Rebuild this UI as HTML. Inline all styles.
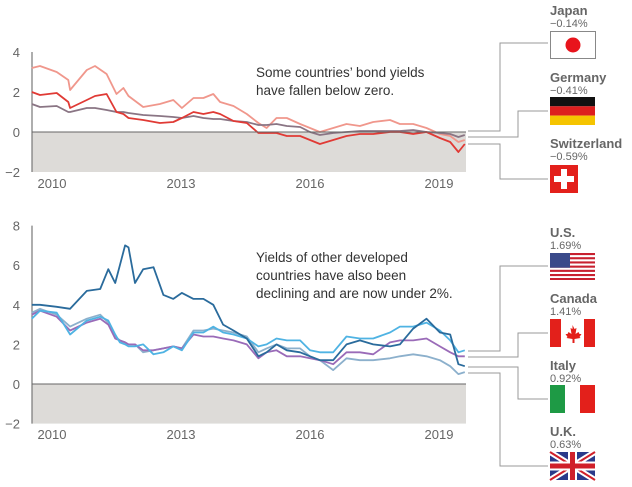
<!DOCTYPE html>
<html><head><meta charset="utf-8">
<style>
body{margin:0;background:#fff;}
svg{display:block;font-family:"Liberation Sans",Arial,sans-serif;}
</style></head>
<body>
<svg id="c" width="632" height="487" viewBox="0 0 632 487"></svg>
<script>
// ---- Top chart data ----
const topDates = [2009.53,2009.72,2010.11,2010.38,2010.42,2010.81,2011.00,2011.27,2011.50,2011.66,2011.78,2012.12,2012.51,2012.82,2013.02,2013.29,2013.52,2013.75,2013.91,2014.22,2014.53,2014.80,2014.99,2015.22,2015.46,2015.77,2016.00,2016.23,2016.54,2016.85,2017.16,2017.47,2017.86,2018.09,2018.40,2018.71,2019.02,2019.26,2019.45,2019.60];
const germany = [3.2,3.3,3.0,2.6,2.1,3.1,3.3,2.9,1.9,2.2,1.8,1.25,1.4,1.6,1.2,1.7,1.7,1.9,1.5,1.3,0.9,0.45,0.2,0.7,0.7,0.4,0.2,0.0,0.2,0.4,0.3,0.5,0.6,0.4,0.4,0.2,-0.1,-0.2,-0.5,-0.4];
const switzerland = [2.0,1.85,1.95,1.5,1.2,1.6,1.8,1.9,1.0,0.9,0.7,0.6,0.45,0.5,0.7,1.0,0.9,1.0,0.9,0.55,0.45,-0.05,-0.05,-0.05,-0.2,-0.2,-0.4,-0.6,-0.4,-0.2,-0.1,-0.1,0.0,0.0,-0.1,0.0,-0.3,-0.5,-1.0,-0.6];
const japan = [1.4,1.25,1.3,1.0,1.0,1.2,1.2,1.1,1.0,1.0,0.95,0.85,0.8,0.75,0.7,0.8,0.7,0.65,0.65,0.55,0.5,0.35,0.35,0.4,0.3,0.25,0.0,-0.15,-0.05,0.0,0.05,0.05,0.05,0.05,0.1,0.0,-0.05,-0.1,-0.25,-0.15];
const topTicks = [4,2,0,-2];
// ---- Bottom chart data ----
const botDates = [2009.53,2009.72,2010.11,2010.42,2010.81,2011.12,2011.31,2011.47,2011.58,2011.70,2011.78,2011.93,2012.12,2012.36,2012.59,2012.82,2013.02,2013.29,2013.52,2013.75,2013.98,2014.22,2014.53,2014.80,2014.99,2015.22,2015.46,2015.77,2016.00,2016.23,2016.54,2016.85,2017.16,2017.47,2017.86,2018.09,2018.40,2018.71,2019.02,2019.26,2019.45,2019.60];
const italy = [4.0,4.0,3.9,3.8,4.7,4.8,5.8,5.1,6.0,7.0,6.9,5.1,5.8,5.9,4.5,4.3,4.6,4.3,4.3,4.0,3.0,2.7,2.3,1.4,1.6,2.0,1.7,1.6,1.4,1.2,1.2,2.0,2.2,2.0,1.9,2.0,2.8,3.3,2.6,2.5,1.0,0.9];
const us = [3.3,3.7,3.6,2.5,3.2,3.4,3.2,2.5,2.1,2.0,1.9,1.9,2.0,1.5,1.6,1.9,1.7,2.6,2.6,2.9,2.6,2.5,2.3,1.9,2.0,2.3,2.2,2.2,1.7,1.6,1.6,2.4,2.3,2.3,2.6,2.9,2.9,3.1,2.7,2.2,1.6,1.7];
const canada = [3.5,3.7,3.4,2.7,3.1,3.3,3.0,2.3,2.2,2.1,2.0,2.0,1.7,1.7,1.8,1.9,1.8,2.5,2.4,2.4,2.3,2.2,2.0,1.3,1.6,1.7,1.4,1.4,1.3,1.2,1.0,1.6,1.6,1.5,2.1,2.2,2.2,2.3,1.9,1.6,1.4,1.4];
const uk = [3.6,3.8,3.5,2.9,3.3,3.5,3.1,2.4,2.2,2.1,2.0,2.0,1.6,1.7,1.8,1.9,1.8,2.7,2.7,2.8,2.7,2.6,2.4,1.6,1.8,2.0,1.8,1.8,1.4,1.2,0.7,1.3,1.2,1.2,1.3,1.4,1.5,1.4,1.2,0.9,0.5,0.6];
const botTicks = [8,6,4,2,0,-2];
const yearTicks = [2010,2013,2016,2019];

const NS='http://www.w3.org/2000/svg';
const svg=document.getElementById('c');
function mk(tag,attrs,parent){const e=document.createElementNS(NS,tag);for(const k in attrs)e.setAttribute(k,attrs[k]);(parent||svg).appendChild(e);return e;}
const X0=32,X1=466;
function xs(yr){return 52+(yr-2010)*43;}

function drawChart(cfg){
  const ys=v=>cfg.zeroY-v*cfg.unit;
  const g=mk('g',{});
  
  
  const bg=mk('rect',{x:X0,y:ys(0),width:X1-X0,height:ys(-2)-ys(0),fill:'#dddbd8'},g);
  
  
  const ax=mk('line',{x1:X0,x2:X0,y1:ys(cfg.max),y2:ys(-2),stroke:'#777','stroke-width':1.2},g);
  
  
  cfg.ticks.forEach(t=>{
    const tx=mk('text',{x:20,y:ys(t)+5,'text-anchor':'end','font-size':13,fill:'#666'},g);
    tx.textContent=t<0?'\u2212'+Math.abs(t):t;
    
    
  });
  yearTicks.forEach(y=>{
    const tx=mk('text',{x:xs(y),y:cfg.yearY,'text-anchor':'middle','font-size':13,fill:'#666'},g);
    tx.textContent=y;
    
    
  });
  cfg.series.forEach(s=>{
    const d=cfg.dates.map((t,i)=>(i?'L':'M')+xs(t).toFixed(1)+','+ys(s.v[i]).toFixed(1)).join('');
    const p=mk('path',{d:d,fill:'none',stroke:s.c,'stroke-width':1.8,'stroke-linejoin':'round'},g);
    
    
  });
  const zl=mk('line',{x1:X0,x2:X1,y1:ys(0),y2:ys(0),stroke:'#666','stroke-width':1},g);
  
  
  cfg.note.forEach((l,i)=>{
    const tx=mk('text',{x:256,y:cfg.noteY+i*18,'font-size':13.5,fill:'#333'},g);
    tx.textContent=l;
    
    
  });
}
drawChart({name:'top-chart',zeroY:132,unit:20,max:4,ticks:topTicks,yearY:188,dates:topDates,noteY:77,
  note:['Some countries\u2019 bond yields','have fallen below zero.'],
  series:[{n:'line-germany',c:'#f0978c',v:germany},{n:'line-japan',c:'#8a7584',v:japan},{n:'line-switzerland',c:'#e03a35',v:switzerland}]});
drawChart({name:'bottom-chart',zeroY:384,unit:19.8,max:8,ticks:botTicks,yearY:439,dates:botDates,noteY:262,
  note:['Yields of other developed','countries have also been','declining and are now under 2%.'],
  series:[{n:'line-uk',c:'#8cb0cc',v:uk},{n:'line-canada',c:'#9a6bb8',v:canada},{n:'line-us',c:'#4fb3e3',v:us},{n:'line-italy',c:'#2a6b9c',v:italy}]});
</script>
<svg width="632" height="487" style="position:absolute;left:0;top:0">
<g fill="none" stroke="#999" stroke-width="1">
<polyline points="468,131 500,131 500,43 548,43"/>
<polyline points="468,137 518,137 518,111 548,111"/>
<polyline points="468,144 500,144 500,179 548,179"/>
<polyline points="468,351 500,351 500,266 548,266"/>
<polyline points="468,357 518,357 518,333 548,333"/>
<polyline points="468,367 518,367 518,399 548,399"/>
<polyline points="468,373 500,373 500,466 548,466"/>
</g>
<g font-family="Liberation Sans,Arial,sans-serif" fill="#666">
<text x="550" y="15" font-size="13" font-weight="bold">Japan</text>
<text x="550" y="27" font-size="11">−0.14%</text>
<text x="550" y="82" font-size="13" font-weight="bold">Germany</text>
<text x="550" y="94" font-size="11">−0.41%</text>
<text x="550" y="148" font-size="13" font-weight="bold">Switzerland</text>
<text x="550" y="160" font-size="11">−0.59%</text>
<text x="550" y="237" font-size="13" font-weight="bold">U.S.</text>
<text x="550" y="249" font-size="11">1.69%</text>
<text x="550" y="303" font-size="13" font-weight="bold">Canada</text>
<text x="550" y="315" font-size="11">1.41%</text>
<text x="550" y="370" font-size="13" font-weight="bold">Italy</text>
<text x="550" y="382" font-size="11">0.92%</text>
<text x="550" y="436" font-size="13" font-weight="bold">U.K.</text>
<text x="550" y="448" font-size="11">0.63%</text>
</g>
<g><rect x="550.5" y="31.5" width="45" height="27" fill="#fff" stroke="#888"/><circle cx="573" cy="45" r="7.5" fill="#e8141c"/></g>
<g><rect x="550" y="97" width="45" height="9.3" fill="#111"/><rect x="550" y="106.3" width="45" height="9.3" fill="#dd1e1e"/><rect x="550" y="115.6" width="45" height="9.4" fill="#f5c400"/></g>
<g><rect x="550" y="165" width="28" height="28" fill="#e3201b"/><rect x="561" y="169" width="6" height="20" fill="#fff"/><rect x="554" y="176" width="20" height="6" fill="#fff"/></g>
<g><rect x="550" y="253" width="45" height="27" fill="#fff"/>
<g fill="#c8202f"><rect x="550" y="253" width="45" height="2.1"/><rect x="550" y="257.2" width="45" height="2.1"/><rect x="550" y="261.4" width="45" height="2.1"/><rect x="550" y="265.6" width="45" height="2.1"/><rect x="550" y="269.8" width="45" height="2.1"/><rect x="550" y="274" width="45" height="2.1"/><rect x="550" y="278" width="45" height="2"/></g>
<rect x="550" y="253" width="20" height="14.7" fill="#3a4a8a"/></g>
<g><rect x="550" y="319" width="45" height="28" fill="#fff"/><rect x="550" y="319" width="11" height="28" fill="#e3201b"/><rect x="584" y="319" width="11" height="28" fill="#e3201b"/><path d="M572.5,325 l2,4 2,-1 -1,6 3,-2 1,2 2,0 -2,3 1,1 -6,1 0,4 -2,0 0,-4 -6,-1 1,-1 -2,-3 2,0 1,-2 3,2 -1,-6 2,1z" fill="#e3201b"/></g>
<g><rect x="550" y="385" width="15" height="28" fill="#1e9a45"/><rect x="565" y="385" width="15" height="28" fill="#fff"/><rect x="580" y="385" width="15" height="28" fill="#e3201b"/></g>
<g><rect x="550" y="452" width="45" height="28" fill="#2a3a8a"/>
<path d="M550,452 L595,480 M595,452 L550,480" stroke="#fff" stroke-width="6"/>
<path d="M550,452 L595,480 M595,452 L550,480" stroke="#d0202a" stroke-width="2"/>
<rect x="568" y="452" width="9" height="28" fill="#fff"/><rect x="550" y="461.5" width="45" height="9" fill="#fff"/>
<rect x="570" y="452" width="5" height="28" fill="#d0202a"/><rect x="550" y="463.5" width="45" height="5" fill="#d0202a"/></g>
</svg>
</body></html>
